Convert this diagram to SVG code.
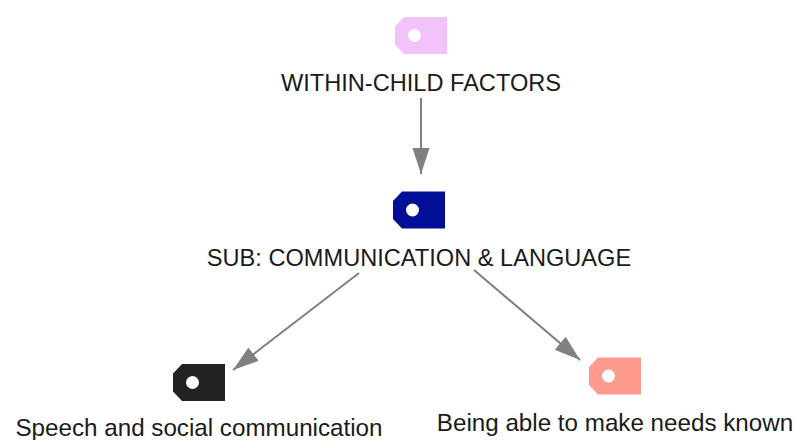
<svg xmlns="http://www.w3.org/2000/svg" width="795" height="440" viewBox="0 0 795 440">
<style>
text{font-family:"Liberation Sans",Arial,sans-serif;fill:#1a1a1a;text-anchor:middle}
.u{font-size:23.6px}
.l{font-size:24.2px}
.c{stroke:#808080;stroke-width:2;fill:none;marker-end:url(#a)}
</style>
<defs>
<marker id="a" markerUnits="userSpaceOnUse" markerWidth="28" markerHeight="20" refX="26" refY="10" orient="auto"><path d="M0 1.500L26 10L0 18.500Z" fill="#808080"/></marker>
<path id="tag" d="M-17 -18.500H26V18.500H-17L-26 9V-9Z"/>
</defs>
<g id="connectors">
<path class="c" d="M421 98V174"/>
<path class="c" d="M359 273L233 370"/>
<path class="c" d="M474 270L580 360"/>
</g>
<g id="n1"><use href="#tag" x="421" y="35.500" fill="#f2c2fb"/><circle cx="414.500" cy="35.500" r="6.500" fill="#fff"/><text class="u" x="421" y="91">WITHIN-CHILD FACTORS</text></g>
<g id="n2"><use href="#tag" x="419" y="210" fill="#000f96"/><circle cx="412.500" cy="210" r="6.500" fill="#fff"/><text class="u" x="419" y="265.500">SUB: COMMUNICATION &amp; LANGUAGE</text></g>
<g id="n3"><use href="#tag" x="199" y="382.500" fill="#222"/><circle cx="192.500" cy="382.500" r="6.500" fill="#fff"/><text class="l" x="199" y="436">Speech and social communication</text></g>
<g id="n4"><use href="#tag" x="615" y="376" fill="#ff9a8e"/><circle cx="608.500" cy="376" r="6.500" fill="#fff"/><text class="l" x="615" y="431">Being able to make needs known</text></g>
</svg>
